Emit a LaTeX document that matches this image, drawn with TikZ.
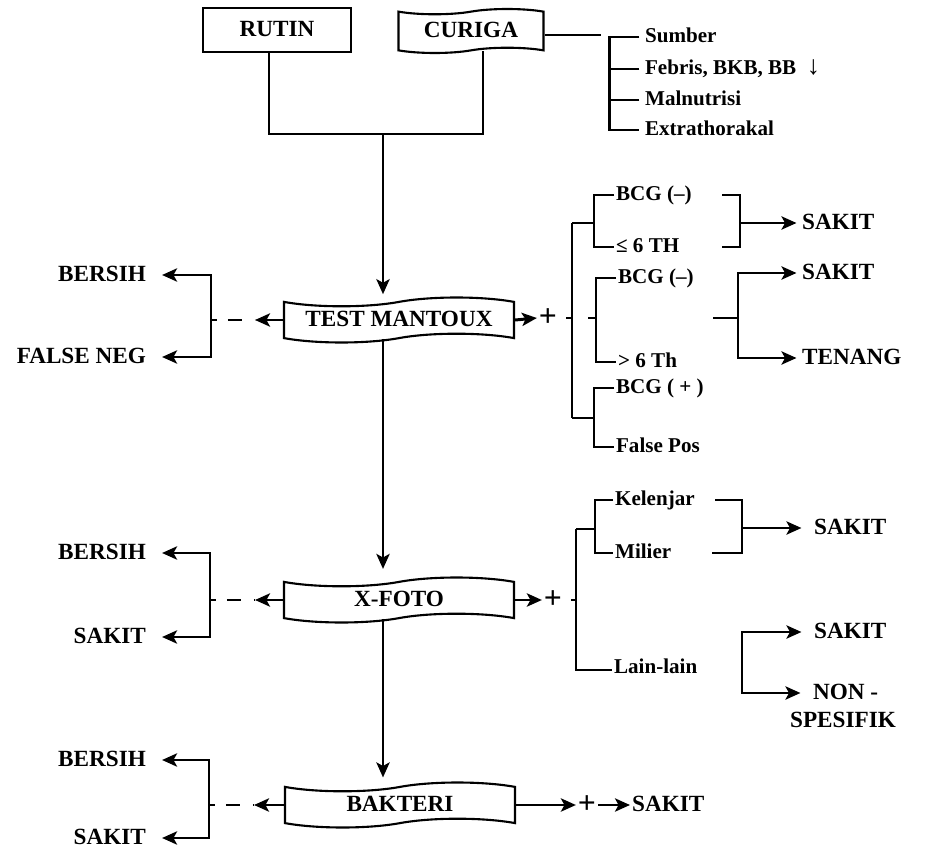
\documentclass[tikz,border=0pt]{standalone}
\usepackage{fontspec}
\setmainfont{Liberation Serif}
\usetikzlibrary{arrows.meta,shapes.symbols,positioning}

\tikzset{
  lbl/.style={font=\bfseries\fontsize{13.2}{15}\selectfont, inner sep=1pt, text height=9.5pt, text depth=2.5pt},
  sub/.style={font=\bfseries\fontsize{12}{14}\selectfont, inner sep=1pt, text height=8.5pt, text depth=2.5pt},
  pls/.style={font=\bfseries\fontsize{18}{18}\selectfont, inner sep=1pt},
  ln/.style={line width=1.7pt},
  arr/.style={ln, -{Stealth[length=8.5pt,width=7.5pt,inset=2pt]}},
  gap/.style={ln, dash pattern=on 0.12cm off 0.22cm on 0.28cm off 0.26cm},
  startbox/.style={draw, line width=1.2pt, lbl, minimum width=2.95cm, minimum height=0.88cm},
  stepbox/.style={draw, line width=1.2pt, lbl, shape=tape, tape bend height=5pt, minimum width=4.6cm, minimum height=0.9cm},
}

\begin{document}
\begin{tikzpicture}[x=0.02cm, y=-0.02cm]
    \useasboundingbox (0,0) rectangle (927,855);

    % main column
    \node[startbox] (rutin) at (277,30) {RUTIN};
    \node[startbox, shape=tape, tape bend height=3pt, minimum width=2.9cm] (curiga) at (471,31) {CURIGA};
    \node[stepbox] (mantoux) at (399,320) {TEST MANTOUX};
    \node[stepbox] (xfoto) at (399,600) {X-FOTO};
    \node[stepbox] (bakteri) at (400,805) {BAKTERI};

    \coordinate (join) at (383,134);
    \draw[ln] ([xshift=-0.16cm]rutin.south) |- (join) -| ([xshift=0.24cm]curiga.south);
    \draw[arr, shorten >=4pt] (join) -- (join |- mantoux.north);
    \draw[arr, shorten >=7pt] (mantoux.south -| join) -- (xfoto.north -| join);
    \draw[arr, shorten >=5pt] (xfoto.south -| join) -- (bakteri.north -| join);

    % curiga
    \node[sub, anchor=west] (sumber) at (643,37) {Sumber};
    \node[sub, anchor=west] (febris) at (643,69) {Febris, BKB, BB\enspace{\fontsize{15}{15}\selectfont ↓}};
    \node[sub, anchor=west] (maln) at (643,100) {Malnutrisi};
    \node[sub, anchor=west] (extra) at (643,130) {Extrathorakal};
    \draw[ln] ([yshift=-0.08cm]curiga.east) -- ++(56,0);
    \draw[ln] ([xshift=-2pt]sumber.west) -- ++(-30,0) |- ([xshift=-2pt]extra.west);
    \foreach \n in {febris,maln}
        \draw[ln] ([xshift=-2pt]\n.west) -- ++(-30,0);

    % test mantoux, negatif
    \node[lbl, anchor=east] (bersihA) at (148,275) {BERSIH};
    \node[lbl, anchor=east] (negA) at (148,357) {FALSE NEG};
    \coordinate (jA) at (211,320);
    \coordinate (dA) at (255,320);
    \draw[arr] (mantoux.west) -- (dA);
    \draw[gap] (jA) -- (dA);
    \draw[arr, shorten >=8pt] (jA) |- (bersihA.east);
    \draw[arr, shorten >=8pt] (jA) |- (negA.east);

    % test mantoux, positif
    \node[pls] (plusA) at (548,318) {+};
    \draw[arr] (mantoux.east) -- (plusA.west);
    \coordinate (mA) at (572,318);
    \coordinate (mAtop) at (572,223);
    \coordinate (mAbot) at (572,418);
    \draw[ln] ([xshift=0.14cm]plusA.east) -- (mA);
    \draw[ln] (mAtop) -- (mAbot);

    \node[sub, anchor=west] (bcgA) at (614,195) {BCG (--)};
    \node[sub, anchor=west] (leA) at (614,247) {≤ 6 TH};
    \draw[ln] (bcgA.west) -- ++(-20,0) |- (leA.west);
    \draw[ln] (mAtop) -- ++(21,0);

    \node[sub, anchor=west] (bcgB) at (616,278) {BCG (--)};
    \node[sub, anchor=west] (gtB) at (616,362) {> 6 Th};
    \draw[ln] (bcgB.west) -- ++(-20,0) |- (gtB.west);
    \coordinate (mB) at (596,318);
    \draw[ln] (mB) -- ++(-8,0);

    \node[sub, anchor=west] (bcgC) at (614,388) {BCG ( + )};
    \node[sub, anchor=west] (fpos) at (614,447) {False Pos};
    \draw[ln] (bcgC.west) -- ++(-20,0) |- (fpos.west);
    \draw[ln] (mAbot) -- ++(21,0);

    \node[lbl, anchor=west] (sakA) at (800,223) {SAKIT};
    \coordinate (cA) at (740,223);
    \draw[ln] (722,195) -| (740,247) -- (722,247);
    \draw[arr, shorten >=2pt] (cA) -- (sakA.west);

    \node[lbl, anchor=west] (sakB) at (800,273) {SAKIT};
    \node[lbl, anchor=west] (tenang) at (800,358) {TENANG};
    \coordinate (cB) at (738,318);
    \draw[ln] (713,318) -- (cB);
    \draw[arr, shorten >=2pt] (cB) |- (sakB.west);
    \draw[arr, shorten >=2pt] (cB) |- (tenang.west);

    % x-foto, negatif
    \node[lbl, anchor=east] (bersihB) at (148,553) {BERSIH};
    \node[lbl, anchor=east] (sakitB) at (148,637) {SAKIT};
    \coordinate (jB) at (210,600);
    \coordinate (dB) at (255,600);
    \draw[arr] (xfoto.west) -- (dB);
    \draw[gap] (jB) -- (dB);
    \draw[arr, shorten >=8pt] (jB) |- (bersihB.east);
    \draw[arr, shorten >=8pt] (jB) |- (sakitB.east);

    % x-foto, positif
    \node[pls] (plusB) at (553,600) {+};
    \draw[arr] (xfoto.east) -- (plusB.west);
    \coordinate (mC) at (576,600);
    \coordinate (mCtop) at (576,529);
    \coordinate (mCbot) at (576,670);
    \draw[ln] ([xshift=0.14cm]plusB.east) -- (mC);

    \node[sub, anchor=west] (kel) at (613,500) {Kelenjar};
    \node[sub, anchor=west] (mil) at (613,553) {Milier};
    \node[sub, anchor=west] (lain) at (612,668) {Lain-lain};
    \draw[ln] (kel.west) -- ++(-18,0) |- (mil.west);
    \draw[ln] (mCtop) -- ++(19,0);
    \draw[ln] (mCtop) -- (mCbot) -- (lain.west |- mCbot);

    \node[lbl, anchor=west] (sakC) at (812,528) {SAKIT};
    \coordinate (cC) at (742,528);
    \draw[ln] (715,500) -| (742,553) -- (712,553);
    \draw[arr, shorten >=6pt] (cC) -- (sakC.west);

    \node[lbl, anchor=west] (sakD) at (812,632) {SAKIT};
    \node[lbl, anchor=west] (non) at (811,693) {NON -};
    \node[lbl] (spes) at (843,721) {SPESIFIK};
    \coordinate (cD) at (742,662);
    \draw[arr, shorten >=6pt] (cD) |- (sakD.west);
    \draw[arr, shorten >=6pt] (cD) |- (non.west);

    % bakteri
    \node[lbl, anchor=east] (bersihC) at (148,760) {BERSIH};
    \node[lbl, anchor=east] (sakitC) at (148,838) {SAKIT};
    \coordinate (jC) at (209,805);
    \coordinate (dC) at (254,805);
    \draw[arr] (bakteri.west) -- (dC);
    \draw[gap] (jC) -- (dC);
    \draw[arr, shorten >=8pt] (jC) |- (bersihC.east);
    \draw[arr, shorten >=8pt] (jC) |- (sakitC.east);

    \node[pls] (plusC) at (587,805) {+};
    \node[lbl, anchor=west] (sakE) at (630,805) {SAKIT};
    \draw[arr] (bakteri.east) -- (plusC.west);
    \draw[arr] (plusC.east) -- (sakE.west);
\end{tikzpicture}
\end{document}
